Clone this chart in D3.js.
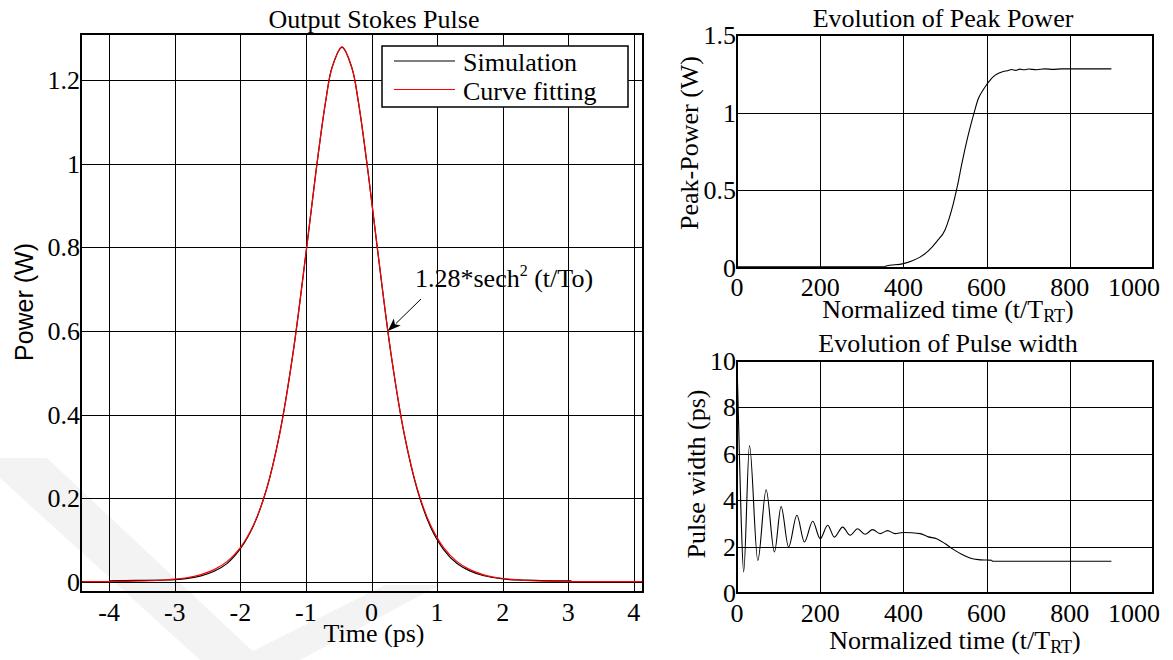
<!DOCTYPE html>
<html>
<head>
<meta charset="utf-8">
<script src="https://cdn.jsdelivr.net/npm/d3@7"></script>
<style>
  html, body { margin: 0; padding: 0; background: #fff; }
  svg { display: block; }
  text { font-family: "Liberation Serif", "Times New Roman", serif; fill: #000; }
</style>
</head>
<body>
<svg id="chart" width="1173" height="660"></svg>
<script>
// ---------------- DATA ----------------
// Left panel: output Stokes pulse (time in ps, power in W)
const simTime  = [-4.0,-3.6,-3.2,-3.0,-2.8,-2.6,-2.4,-2.2,-2.0,-1.8,-1.6,-1.4,-1.2,-1.0,-0.85,-0.7,-0.6,-0.45,-0.3,-0.2,-0.05,0.1,0.3,0.5,0.7,0.9,1.1,1.3,1.5,1.7,1.9,2.1,2.3,2.5,2.8,3.05];
const simPower = [0.002,0.003,0.004,0.005,0.008,0.014,0.025,0.044,0.079,0.134,0.222,0.355,0.544,0.786,0.978,1.149,1.232,1.279,1.230,1.148,0.977,0.784,0.542,0.352,0.219,0.131,0.077,0.044,0.026,0.015,0.009,0.005,0.004,0.003,0.002,0.002];
const fitTime  = [-4.43,-4.0,-3.6,-3.2,-3.0,-2.8,-2.6,-2.4,-2.2,-2.0,-1.8,-1.6,-1.4,-1.2,-1.0,-0.85,-0.7,-0.6,-0.45,-0.3,-0.2,-0.05,0.1,0.3,0.5,0.7,0.9,1.1,1.3,1.5,1.7,1.9,2.1,2.3,2.5,2.8,3.2,3.6,4.14];
const fitPower = [0.000,0.0004,0.0012,0.0035,0.006,0.0101,0.0171,0.0289,0.0487,0.0817,0.1355,0.2218,0.354,0.543,0.785,0.978,1.149,1.231,1.28,1.231,1.149,0.978,0.785,0.543,0.354,0.2218,0.1355,0.0817,0.0487,0.0289,0.0171,0.0101,0.006,0.0035,0.0021,0.0009,0.0003,0.0001,0.0];
const pulseXTicks = [-4,-3,-2,-1,0,1,2,3,4];
const pulseYTicks = [0,0.2,0.4,0.6,0.8,1,1.2];
const legendLabels = ["Simulation","Curve fitting"];

// Top-right panel: evolution of peak power
const ppTime  = [0,100,200,300,355,358,400,420,440,460,480,500,510,520,530,540,550,560,570,580,590,600,610,620,630,640,650,660,670,680,690,700,720,740,760,780,800,850,900];
const ppPower = [0.008,0.008,0.008,0.008,0.008,0.013,0.028,0.045,0.07,0.11,0.17,0.245,0.32,0.415,0.53,0.665,0.79,0.9,1.0,1.09,1.14,1.18,1.215,1.24,1.255,1.265,1.27,1.278,1.272,1.28,1.276,1.281,1.276,1.282,1.279,1.282,1.282,1.282,1.282];
const ppYTicks = [0,0.5,1,1.5];

// Bottom-right panel: evolution of pulse width
const pwTime  = [0,4,10,16,30,50,70,90,106,124,144,162,182,200,218,234,254,272,290,308,326,344,362,380,400,420,440,460,480,500,520,540,560,580,600,612,614,900];
const pwWidth = [10,7.2,3.2,0.9,6.36,1.4,4.45,1.77,3.73,1.98,3.35,2.2,3.09,2.34,2.92,2.41,2.84,2.49,2.77,2.53,2.73,2.56,2.69,2.56,2.61,2.6,2.56,2.42,2.34,2.13,1.88,1.67,1.51,1.44,1.42,1.41,1.37,1.37];
const pwYTicks = [0,2,4,6,8,10];
const evoXTicks = [0,200,400,600,800,1000];

// ---------------- DRAW ----------------
const svg = d3.select("#chart");
const FS = 26;

// faint background watermark bands
const wm = svg.append("g").attr("fill", "#f3f3f3");
wm.append("polygon").attr("points", "0,458 47,458 262,660 200,660 0,478");
wm.append("polygon").attr("points", "235,660 300,660 440,585 385,585");

function panel(opt) {
  const g = svg.append("g");
  const x = d3.scaleLinear().domain(opt.xDomain).range([opt.left, opt.right]);
  const y = d3.scaleLinear().domain(opt.yDomain).range([opt.bottom, opt.top]);

  // grid
  g.append("g").selectAll("line").data(opt.xTicks).join("line")
    .attr("x1", d => Math.round(x(d)) + 0.5).attr("x2", d => Math.round(x(d)) + 0.5)
    .attr("y1", opt.top).attr("y2", opt.bottom)
    .attr("stroke", "#000").attr("stroke-width", 1);
  g.append("g").selectAll("line").data(opt.yTicks).join("line")
    .attr("y1", d => Math.round(y(d)) + 0.5).attr("y2", d => Math.round(y(d)) + 0.5)
    .attr("x1", opt.left).attr("x2", opt.right)
    .attr("stroke", "#000").attr("stroke-width", 1);

  // series
  (opt.series || []).forEach(s => {
    const pts = s.xs.map((v, i) => [v, s.ys[i]]);
    g.append("path").datum(pts)
      .attr("fill", "none").attr("stroke", s.color).attr("stroke-width", s.width || 1.2)
      .attr("stroke-linejoin", "round")
      .attr("d", d3.line().x(d => x(d[0])).y(d => y(d[1])).curve(s.curve || d3.curveMonotoneX));
  });

  // box
  g.append("rect").attr("x", opt.left).attr("y", opt.top)
    .attr("width", opt.right - opt.left).attr("height", opt.bottom - opt.top)
    .attr("fill", "none").attr("stroke", "#000").attr("stroke-width", 2);

  // y tick labels
  g.append("g").selectAll("text").data(opt.yTicks).join("text")
    .attr("x", opt.left - 1).attr("y", d => y(d) + 9)
    .attr("text-anchor", "end").attr("font-size", FS)
    .text(d => d);

  // x tick labels
  g.append("g").selectAll("text").data(opt.xTicks).join("text")
    .attr("y", opt.bottom + opt.xTickDy)
    .attr("font-size", FS).attr("text-anchor", "middle")
    .text(d => d)
    .each(function(d) {
      const w = this.getComputedTextLength();
      let cx = x(d);
      if (cx + w / 2 > 1160) cx = 1160 - w / 2;
      d3.select(this).attr("x", cx);
    });

  // title
  g.append("text").attr("x", opt.titleX).attr("y", opt.titleY)
    .attr("text-anchor", "middle").attr("font-size", FS).text(opt.title);

  // x label
  const xl = g.append("text").attr("x", opt.xLabelX).attr("y", opt.xLabelY)
    .attr("text-anchor", "middle").attr("font-size", FS);
  opt.xLabel(xl);

  // y label
  g.append("text")
    .attr("transform", `translate(${opt.yLabelX},${opt.yLabelY}) rotate(-90)`)
    .attr("text-anchor", "middle").attr("font-size", opt.yLabelSize || FS)
    .style("font-family", opt.yLabelFont || null)
    .text(opt.yLabel);

  return { g, x, y };
}

function trtLabel(t) {
  t.append("tspan").text("Normalized time (t/T");
  t.append("tspan").attr("font-size", 18).attr("dy", 4).text("RT");
  t.append("tspan").attr("dy", -4).text(")");
}

// Left panel
const L = panel({
  left: 81, right: 643, top: 34, bottom: 592,
  xDomain: [-4.43, 4.14], yDomain: [-0.0246, 1.311],
  xTicks: pulseXTicks, yTicks: pulseYTicks, xTickDy: 29,
  title: "Output Stokes Pulse", titleX: 374, titleY: 28,
  xLabel: t => t.text("Time (ps)"), xLabelX: 374, xLabelY: 642,
  yLabel: "Power (W)", yLabelX: 33, yLabelY: 302, yLabelSize: 25,
  yLabelFont: "'Liberation Sans', Arial, sans-serif",
  series: [
    { xs: simTime, ys: simPower, color: "#000", width: 1.2, curve: d3.curveCatmullRom.alpha(0.5) },
    { xs: fitTime, ys: fitPower, color: "#ff0000", width: 1.2, curve: d3.curveCatmullRom.alpha(0.5) }
  ]
});

// Legend
const lg = svg.append("g");
lg.append("rect").attr("x", 382).attr("y", 46).attr("width", 246).attr("height", 61)
  .attr("fill", "#fff").attr("stroke", "#000").attr("stroke-width", 1.5);
const legendColors = ["#000", "#ff0000"];
legendLabels.forEach((lab, i) => {
  const yy = 61 + i * 28.5;
  lg.append("line").attr("x1", 394).attr("x2", 455).attr("y1", yy).attr("y2", yy)
    .attr("stroke", legendColors[i]).attr("stroke-width", 1.2);
  lg.append("text").attr("x", 463).attr("y", yy + 10).attr("font-size", FS).text(lab);
});

// Annotation with arrow
const ann = svg.append("g");
const at = ann.append("text").attr("x", 415).attr("y", 287).attr("font-size", FS);
at.append("tspan").text("1.28*sech");
at.append("tspan").attr("font-size", 16).attr("dy", -11).text("2");
at.append("tspan").attr("dy", 11).text(" (t/To)");
const tip = [L.x(0.25), L.y(0.6)];
const tail = [421, 299];
ann.append("line").attr("x1", tail[0]).attr("y1", tail[1]).attr("x2", tip[0] + 8).attr("y2", tip[1] - 7.5)
  .attr("stroke", "#000").attr("stroke-width", 1);
{
  const ang = Math.atan2(tip[1] - tail[1], tip[0] - tail[0]);
  const len = 13, half = 5;
  const bx = tip[0] - len * Math.cos(ang), by = tip[1] - len * Math.sin(ang);
  const px = -Math.sin(ang) * half, py = Math.cos(ang) * half;
  ann.append("path")
    .attr("d", `M${tip[0]},${tip[1]} L${bx + px},${by + py} L${bx + len*0.25*Math.cos(ang)},${by + len*0.25*Math.sin(ang)} L${bx - px},${by - py} Z`)
    .attr("fill", "#000");
}

// Top-right panel
panel({
  left: 737, right: 1153, top: 35, bottom: 268,
  xDomain: [0, 1000], yDomain: [0, 1.5],
  xTicks: evoXTicks, yTicks: ppYTicks, xTickDy: 28,
  title: "Evolution of Peak Power", titleX: 943, titleY: 27,
  xLabel: trtLabel, xLabelX: 948, xLabelY: 318,
  yLabel: "Peak-Power (W)", yLabelX: 698, yLabelY: 143,
  series: [{ xs: ppTime, ys: ppPower, color: "#000", width: 1.1 }]
});

// Bottom-right panel
panel({
  left: 737, right: 1153, top: 361, bottom: 593,
  xDomain: [0, 1000], yDomain: [0, 10],
  xTicks: evoXTicks, yTicks: pwYTicks, xTickDy: 29,
  title: "Evolution of Pulse width", titleX: 948, titleY: 352,
  xLabel: trtLabel, xLabelX: 955, xLabelY: 649,
  yLabel: "Pulse width (ps)", yLabelX: 705, yLabelY: 474,
  series: [{ xs: pwTime, ys: pwWidth, color: "#000", width: 1.1 }]
});
</script>
</body>
</html>
